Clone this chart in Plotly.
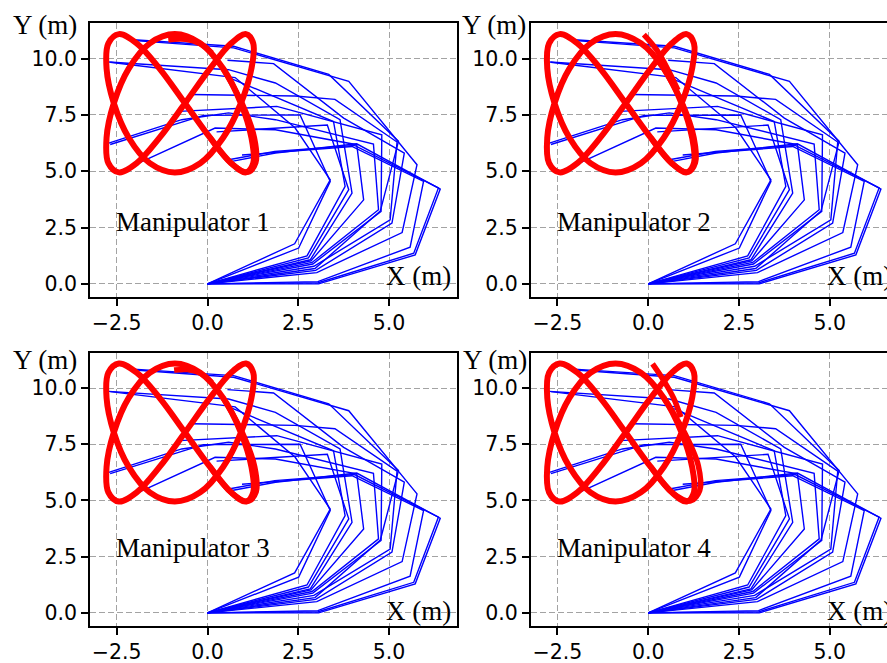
import plotly.graph_objects as go

# ---------------- data ----------------
X_TICKS = [-2.5, 0.0, 2.5, 5.0]
X_TICK_TEXT = ["\u22122.5", "0.0", "2.5", "5.0"]
Y_TICKS = [0.0, 2.5, 5.0, 7.5, 10.0]
Y_TICK_TEXT = ["0.0", "2.5", "5.0", "7.5", "10.0"]

PANEL_TITLES = ["Manipulator 1", "Manipulator 2", "Manipulator 3", "Manipulator 4"]

# arm configurations (joint x / joint y)
ARM_X = [
    [0, 3.06, 5.72, 6.41, 4.11, 1.87, 0.67],
    [0, 3.05, 5.68, 6.36, 4.05, 1.85, 0.62],
    [0, 3.04, 5.58, 5.95, 3.98, 0.95],
    [0, 3.01, 5.36, 5.77, 3.89, 0.72, -2.00],
    [0, 2.98, 5.08, 5.42, 3.75, 1.82, 0.55],
    [0, 2.96, 4.76, 5.26, 3.34, 0.72, -2.04],
    [0, 2.93, 5.03, 5.22, 3.51, 2.41, -0.45],
    [0, 2.90, 4.78, 4.80, 1.91, -0.78],
    [0, 2.88, 4.71, 4.57, 1.87, 0.58, -0.71, -2.72],
    [0, 2.85, 4.30, 4.11, 1.87, 0.21, -1.90],
    [0, 2.83, 3.98, 3.65, 1.87, 0.58, -2.72],
    [0, 2.78, 3.89, 3.30, 0.25],
    [0, 2.74, 3.79, 3.47, 0.62],
    [0, 2.51, 3.38, 2.55, -0.11, -2.68],
    [0, 2.40, 3.38, 2.41, 0.76, -2.68],
]
ARM_Y = [
    [0, 0.00, 1.29, 4.21, 6.22, 5.81, 5.44],
    [0, 0.05, 1.36, 4.26, 6.15, 5.88, 5.52],
    [0, 0.10, 1.63, 4.55, 6.10, 5.72],
    [0, 0.50, 2.28, 5.29, 8.99, 10.48, 10.80],
    [0, 0.60, 2.70, 5.81, 7.36, 9.78, 9.93],
    [0, 0.68, 3.24, 6.33, 9.30, 10.55, 10.84],
    [0, 0.78, 2.84, 6.30, 8.19, 8.34, 8.41],
    [0, 0.88, 3.22, 6.62, 7.88, 7.66],
    [0, 0.95, 3.29, 6.21, 7.29, 7.59, 7.29, 6.25],
    [0, 1.02, 3.73, 6.18, 6.84, 6.92, 5.36],
    [0, 1.07, 4.03, 7.29, 8.92, 9.51, 9.85],
    [0, 1.15, 4.18, 7.05, 6.75],
    [0, 1.24, 4.33, 7.21, 9.14],
    [0, 1.59, 4.55, 7.50, 7.48, 6.19],
    [0, 1.78, 4.62, 6.93, 9.16, 9.84],
]

# tracked end-effector path (closed loop)
PATH_X = [-0.62, 0.07, 0.65, 1.06, 1.26, 1.21, 0.92, 0.43, -0.20, -0.90, -1.59, -2.17,
          -2.58, -2.78, -2.73, -2.44, -1.95, -1.32, -0.62, 0.07, 0.65, 1.06, 1.26, 1.21,
          0.92, 0.43, -0.20, -0.90, -1.59, -2.17, -2.58, -2.78, -2.73, -2.44, -1.95, -1.32,
          -0.62]
PATH_Y = [8.02, 9.56, 10.68, 11.09, 10.68, 9.56, 8.02, 6.49, 5.36, 4.95, 5.36, 6.49,
          8.02, 9.56, 10.68, 11.09, 10.68, 9.56, 8.02, 6.49, 5.36, 4.95, 5.36, 6.49,
          8.02, 9.56, 10.68, 11.09, 10.68, 9.56, 8.02, 6.49, 5.36, 4.95, 5.36, 6.49,
          8.02]

# start-up transient of each manipulator
TAIL_X = [
    [-1.08, -0.60, -0.20, 0.12],
    [-0.12, 0.23, 0.58, 0.82],
    [-0.92, -0.55, -0.20, 0.12],
    [0.12, 0.42, 0.70, 0.90],
]
TAIL_Y = [
    [10.84, 10.86, 10.66, 10.25],
    [11.07, 10.40, 9.40, 8.60],
    [10.80, 10.82, 10.66, 10.25],
    [11.07, 10.35, 9.55, 8.70],
]
# extra passes over the lower right lobe (thickened parts)
LOBE_X = [
    [0.07, 0.67, 1.11, 1.33, 1.29, 0.95, 0.43],
    [0.07, 0.66, 1.09, 1.30, 1.26, 0.94, 0.43],
    [0.07, 0.67, 1.11, 1.34, 1.30, 0.96, 0.43],
    [0.07, 0.70, 1.17, 1.42, 1.38, 1.00, 0.43],
]
LOBE_Y = [
    [6.49, 5.33, 4.96, 5.38, 6.50, 8.02, 9.56],
    [6.49, 5.33, 4.96, 5.38, 6.50, 8.02, 9.56],
    [6.49, 5.33, 4.96, 5.38, 6.50, 8.02, 9.56],
    [6.49, 5.30, 4.98, 5.45, 6.55, 8.02, 9.56],
]

X_RANGE_LEFT = [-3.236, 6.863]
X_RANGE_RIGHT = [-3.236, 6.577]
Y_RANGE = [-0.57, 11.57]

W, H = 887, 663
X_DOMAINS = [[90 / W, 456.7 / W], [530.7 / W, 1.0], [90 / W, 456.7 / W], [530.7 / W, 1.0]]
Y_DOMAINS = [[(H - 296.7) / H, (H - 23.3) / H], [(H - 296.7) / H, (H - 23.3) / H],
             [(H - 625.7) / H, (H - 352.7) / H], [(H - 625.7) / H, (H - 352.7) / H]]

# "Y (m)" label positions (paper fractions)
YLABEL_PX = [11 / W, 460 / W, 11 / W, 461 / W]
YLABEL_PY = [(H - 25) / H, (H - 25) / H, (H - 360) / H, (H - 360) / H]
TITLE_Y = [2.73, 2.73, 2.88, 2.88]
XLABEL_Y = [0.36, 0.36, 0.10, 0.10]

# ---------------- figure ----------------
fig = go.Figure()
BLUE = "#0000ff"
RED = "#ff0000"

for p in range(4):
    xa = "x" if p == 0 else f"x{p+1}"
    ya = "y" if p == 0 else f"y{p+1}"
    ax_x, ax_y = [], []
    for xs, ys in zip(ARM_X, ARM_Y):
        ax_x += xs + [None]
        ax_y += ys + [None]
    fig.add_trace(go.Scatter(x=ax_x, y=ax_y, mode="lines", xaxis=xa, yaxis=ya,
                             line=dict(color=BLUE, width=1.4), showlegend=False,
                             hoverinfo="skip"))
    fig.add_trace(go.Scatter(x=LOBE_X[p], y=LOBE_Y[p], mode="lines", xaxis=xa, yaxis=ya,
                             line=dict(color=RED, width=5.5, shape="spline"),
                             showlegend=False, hoverinfo="skip"))
    fig.add_trace(go.Scatter(x=PATH_X, y=PATH_Y, mode="lines", xaxis=xa, yaxis=ya,
                             line=dict(color=RED, width=6, shape="spline", smoothing=1.0),
                             showlegend=False, hoverinfo="skip"))
    fig.add_trace(go.Scatter(x=TAIL_X[p], y=TAIL_Y[p], mode="lines", xaxis=xa, yaxis=ya,
                             line=dict(color=RED, width=5.5, shape="spline"),
                             showlegend=False, hoverinfo="skip"))

layout = dict(width=W, height=H, margin=dict(l=0, r=0, t=0, b=0),
              paper_bgcolor="white", plot_bgcolor="white", showlegend=False)

tick_font = dict(family="DejaVu Sans", size=20.5, color="black")
for p in range(4):
    xk = "xaxis" if p == 0 else f"xaxis{p+1}"
    yk = "yaxis" if p == 0 else f"yaxis{p+1}"
    ya = "y" if p == 0 else f"y{p+1}"
    xa = "x" if p == 0 else f"x{p+1}"
    right = p in (1, 3)
    layout[xk] = dict(domain=X_DOMAINS[p], anchor=ya,
                      range=X_RANGE_RIGHT if right else X_RANGE_LEFT,
                      tickmode="array", tickvals=X_TICKS, ticktext=X_TICK_TEXT,
                      showline=True, linecolor="black", linewidth=1.6, mirror=True,
                      ticks="outside", ticklen=7, tickwidth=1.6, tickcolor="black",
                      tickfont=tick_font, showgrid=True, gridcolor="#a3a3a3",
                      gridwidth=1.1, griddash="6px,3px", zeroline=False)
    layout[yk] = dict(domain=Y_DOMAINS[p], anchor=xa, range=Y_RANGE,
                      tickmode="array", tickvals=Y_TICKS, ticktext=Y_TICK_TEXT,
                      showline=True, linecolor="black", linewidth=1.6,
                      mirror=False if right else True,
                      ticks="outside", ticklen=7, tickwidth=1.6, tickcolor="black",
                      tickfont=tick_font, showgrid=True, gridcolor="#a3a3a3",
                      gridwidth=1.1, griddash="6px,3px", zeroline=False)

fig.update_layout(**layout)

label_font = dict(family="Liberation Serif", size=27, color="black")
for p in range(4):
    xa = "x" if p == 0 else f"x{p+1}"
    ya = "y" if p == 0 else f"y{p+1}"
    fig.add_annotation(x=YLABEL_PX[p], y=YLABEL_PY[p], xref="paper", yref="paper",
                       text="Y (m)", showarrow=False, xanchor="left", yanchor="middle",
                       font=label_font)
    fig.add_annotation(x=-2.57, y=TITLE_Y[p], xref=xa, yref=ya, text=PANEL_TITLES[p],
                       showarrow=False, xanchor="left", yanchor="middle", font=label_font)
    fig.add_annotation(x=4.87, y=XLABEL_Y[p], xref=xa, yref=ya, text="X (m)",
                       showarrow=False, xanchor="left", yanchor="middle", font=label_font)

fig.write_html("out.html")
